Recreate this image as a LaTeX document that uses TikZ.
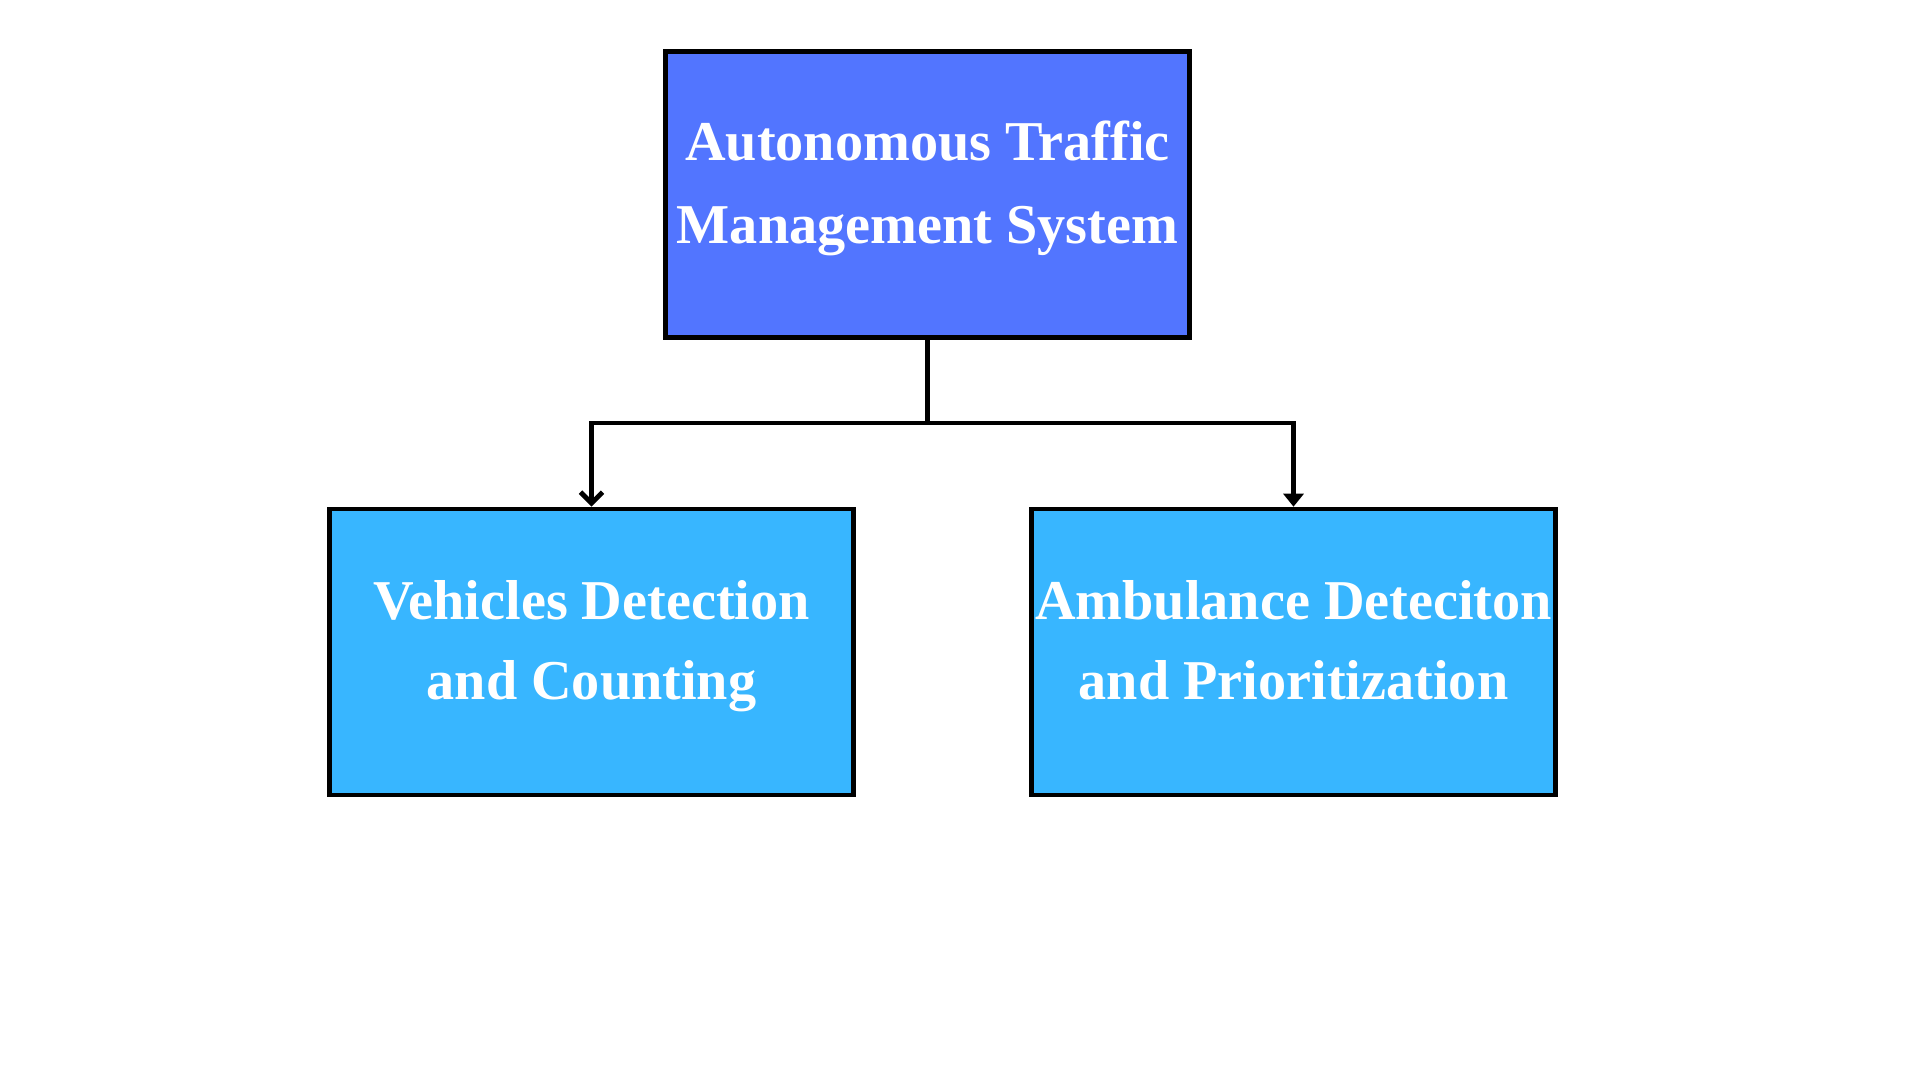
\documentclass[tikz,border=0pt]{standalone}
\usepackage{fontspec}
\setmainfont{Liberation Serif}
\usetikzlibrary{arrows.meta}
\definecolor{topblue}{HTML}{5275FF}
\definecolor{skyblue}{HTML}{38B6FF}
\tikzset{
    box/.style={draw=black, line width=1.3pt, minimum width=5.24cm, minimum height=2.86cm,
        text=white, align=center, inner sep=0pt,
        font=\fontsize{16pt}{#1}\selectfont\bfseries,
        execute at begin node={\rule{0pt}{26pt}}, execute at end node=\strut},
    box/.default=23.4pt,
    link/.style={line width=1.4pt}
}
\begin{document}
\begin{tikzpicture}
            % the frame
            \useasboundingbox (0,0) rectangle (19.2,-10.8);
            % the boxes
            \node[box, fill=topblue] (atms) at (9.275,-1.945) {Autonomous Traffic\\Management System};
            \node[box=22.6pt, fill=skyblue] (vehicles) at (5.915,-6.52) {Vehicles Detection\\and Counting};
            \node[box=22.6pt, fill=skyblue] (ambulance) at (12.935,-6.52) {Ambulance Deteciton\\and Prioritization};

            % the links
            \coordinate (split) at (9.275,-4.23);
            \draw[link] (atms) -- (split);
            \draw[link, -{Straight Barb[length=1.1mm, width=2.2mm]}] (split) -| (vehicles);
            \draw[link, -{Triangle[length=1.3mm, width=2mm]}] (split) -| (ambulance);
        \end{tikzpicture}
\end{document}
